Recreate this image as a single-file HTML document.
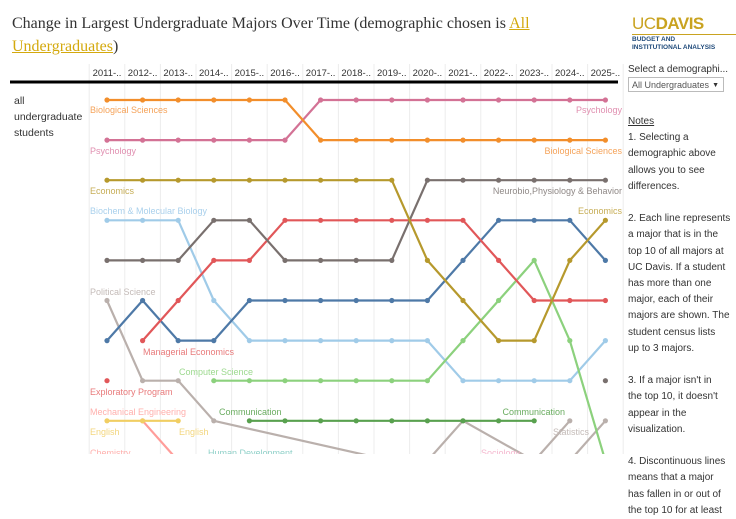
<!DOCTYPE html>
<html><head><meta charset="utf-8"><style>
body{margin:0;width:736px;height:454px;overflow:hidden;background:#fff;font-family:"Liberation Sans",sans-serif;position:relative}
.title{position:absolute;left:12px;top:12px;width:600px;font-family:"Liberation Serif",serif;font-size:16px;line-height:23px;color:#333}
.title a{color:#d4a90d;text-decoration:underline}
.side{position:absolute;left:628px;color:#333;font-size:10px}
.notes{top:114px;line-height:16.2px;width:108px}
</style></head><body>
<div class="title">Change in Largest Undergraduate Majors Over Time (demographic chosen is <a>All<br>Undergraduates</a>)</div>
<div style="position:absolute;left:632px;top:15px;width:104px">
<div style="font-size:17px;font-weight:bold;color:#c9a320;letter-spacing:-0.5px;line-height:18px"><span style="font-weight:normal">UC</span>DAVIS</div>
<div style="border-top:1px solid #c9a320;margin-top:1px;font-size:6.5px;font-weight:bold;color:#1f4a7a;line-height:8px;padding-top:1px">BUDGET AND<br>INSTITUTIONAL ANALYSIS</div></div>
<div class="side" style="top:64px">Select a demographi...</div>
<div style="position:absolute;left:628px;top:77px;width:96px;height:15px;border:1px solid #bbb;font-size:9px;color:#555;line-height:15px;padding-left:3px;box-sizing:border-box">All Undergraduates<span style="position:absolute;right:4px;font-size:7px;color:#333">▼</span></div>
<div class="side notes"><u>Notes</u><br>1. Selecting a<br>demographic above<br>allows you to see<br>differences.<br><br>2. Each line represents<br>a major that is in the<br>top 10 of all majors at<br>UC Davis. If a student<br>has more than one<br>major, each of their<br>majors are shown. The<br>student census lists<br>up to 3 majors.<br><br>3. If a major isn't in<br>the top 10, it doesn't<br>appear in the<br>visualization.<br><br>4. Discontinuous lines<br>means that a major<br>has fallen in or out of<br>the top 10 for at least</div>
<div style="position:absolute;left:14px;top:93px;font-size:10.5px;line-height:16px;color:#333">all<br>undergraduate<br>students</div>
<svg id="chart" width="736" height="454" style="position:absolute;left:0;top:0"></svg>
<script>
const years=["2011-..","2012-..","2013-..","2014-..","2015-..","2016-..","2017-..","2018-..","2019-..","2020-..","2021-..","2022-..","2023-..","2024-..","2025-.."];
const N=null;
const bioSci=[1,1,1,1,1,1,2,2,2,2,2,2,2,2,2];
const psych=[2,2,2,2,2,2,1,1,1,1,1,1,1,1,1];
const econ=[3,3,3,3,3,3,3,3,3,5,6,7,7,5,4];
const neuro=[5,5,5,4,4,5,5,5,5,3,3,3,3,3,3];
const mgrEcon=[N,7,6,5,5,4,4,4,4,4,4,5,6,6,6];
const blueMaj=[7,6,7,7,6,6,6,6,6,6,5,4,4,4,5];
const biochem=[4,4,4,6,7,7,7,7,7,7,8,8,8,8,7];
const polisci=[6,8,8,9,N,N,N,N,10,10,9,N,10,N,N];
const stats=[N,N,N,N,N,N,N,N,N,N,N,N,10,9,N];
const other=[N,N,N,N,N,N,N,N,N,N,N,N,N,10,9];
const compSci=[N,N,N,8,8,8,8,8,8,8,7,6,5,7,10];
const comm=[N,N,N,N,9,9,9,9,9,9,9,9,9,N,N];
const mechEng=[N,9,10,N,N,N,N,N,N,N,N,N,N,N,N];
const english=[9,9,9,N,N,N,N,N,N,N,N,N,N,N,N];
const explore=[8,N,N,N,N,N,N,N,N,N,N,N,N,N,N];
const dotGray=[N,N,N,N,N,N,N,N,N,N,N,N,N,N,8];
const x=i=>107+i*35.6;
const y=r=>100+(r-1)*40.1;
const svg=document.getElementById('chart');const NS='http://www.w3.org/2000/svg';
function mk(t,a){const e=document.createElementNS(NS,t);for(const k in a)e.setAttribute(k,a[k]);svg.appendChild(e);return e;}
for(let i=0;i<=years.length;i++){const g=mk('line',{x1:89.2+i*35.6,x2:89.2+i*35.6,y1:64,y2:454,stroke:'#ececec','stroke-width':1});

}
const hl=mk('line',{x1:10,x2:618,y1:82,y2:82,stroke:'#000','stroke-width':3});


years.forEach((t,i)=>{const e=mk('text',{x:x(i),y:76,'text-anchor':'middle','font-size':9.5,fill:'#333','font-family':'Liberation Sans,sans-serif'});e.textContent=t;

});
const series=[[biochem,'#a0cbe8','biochem'],[polisci,'#bab0ac','political-science'],[stats,'#bab0ac','statistics'],[other,'#bab0ac','other-major'],[mechEng,'#ff9d9a','mechanical-engineering'],[english,'#f1ce63','english'],[comm,'#59a14f','communication'],[compSci,'#8cd17d','computer-science'],[blueMaj,'#4e79a7','blue-major'],[mgrEcon,'#e15759','managerial-economics'],[neuro,'#79706e','neurobiology'],[econ,'#b6992d','economics'],[psych,'#d37295','psychology'],[bioSci,'#f28e2b','biological-sciences'],[explore,'#e15759','exploratory-program'],[dotGray,'#79706e','gray-dot']];
series.forEach(([d,c,n])=>{let p='';d.forEach((v,i)=>{if(v==null)return;p+=(p?'L':'M')+x(i)+','+y(v);});
if(p.indexOf('L')>0){const l=mk('path',{d:p,fill:'none',stroke:c,'stroke-width':2.2,'stroke-linejoin':'round'});

}
d.forEach((v,i)=>{if(v==null||v>9.3)return;const pt=mk('circle',{cx:x(i),cy:y(v),r:2.6,fill:c});

});});
const labels=[["Biological Sciences",90,113,'#f5a35a','start'],["Psychology",90,154,'#e08fb0','start'],["Psychology",622,113,'#e08fb0','end'],["Biological Sciences",622,154,'#f5a35a','end'],["Economics",90,194,'#c6ad55','start'],["Neurobio,Physiology & Behavior",622,194,'#8f8886','end'],["Biochem & Molecular Biology",90,214,'#a9d0ec','start'],["Economics",622,214,'#c6ad55','end'],["Political Science",90,295,'#c4bbb8','start'],["Managerial Economics",143,355,'#e87a7b','start'],["Computer Science",179,375,'#9dd98f','start'],["Exploratory Program",90,395,'#e87a7b','start'],["Mechanical Engineering",90,415,'#ffb0ad','start'],["Communication",219,415,'#6aac60','start'],["Communication",565,415,'#6aac60','end'],["English",90,435,'#f3d67e','start'],["English",179,435,'#f3d67e','start'],["Statistics",589,435,'#c4bbb8','end'],["Chemistry",90,456,'#ffb0ad','start'],["Human Development",208,456,'#8fd0c8','start'],["Sociology",481,456,'#f5b8cf','start']];
labels.forEach(([t,lx,ly,c,a])=>{const e=mk('text',{x:lx,y:ly,'text-anchor':a,'font-size':9,fill:c,'font-family':'Liberation Sans,sans-serif'});e.textContent=t;

});
</script>
</body></html>
